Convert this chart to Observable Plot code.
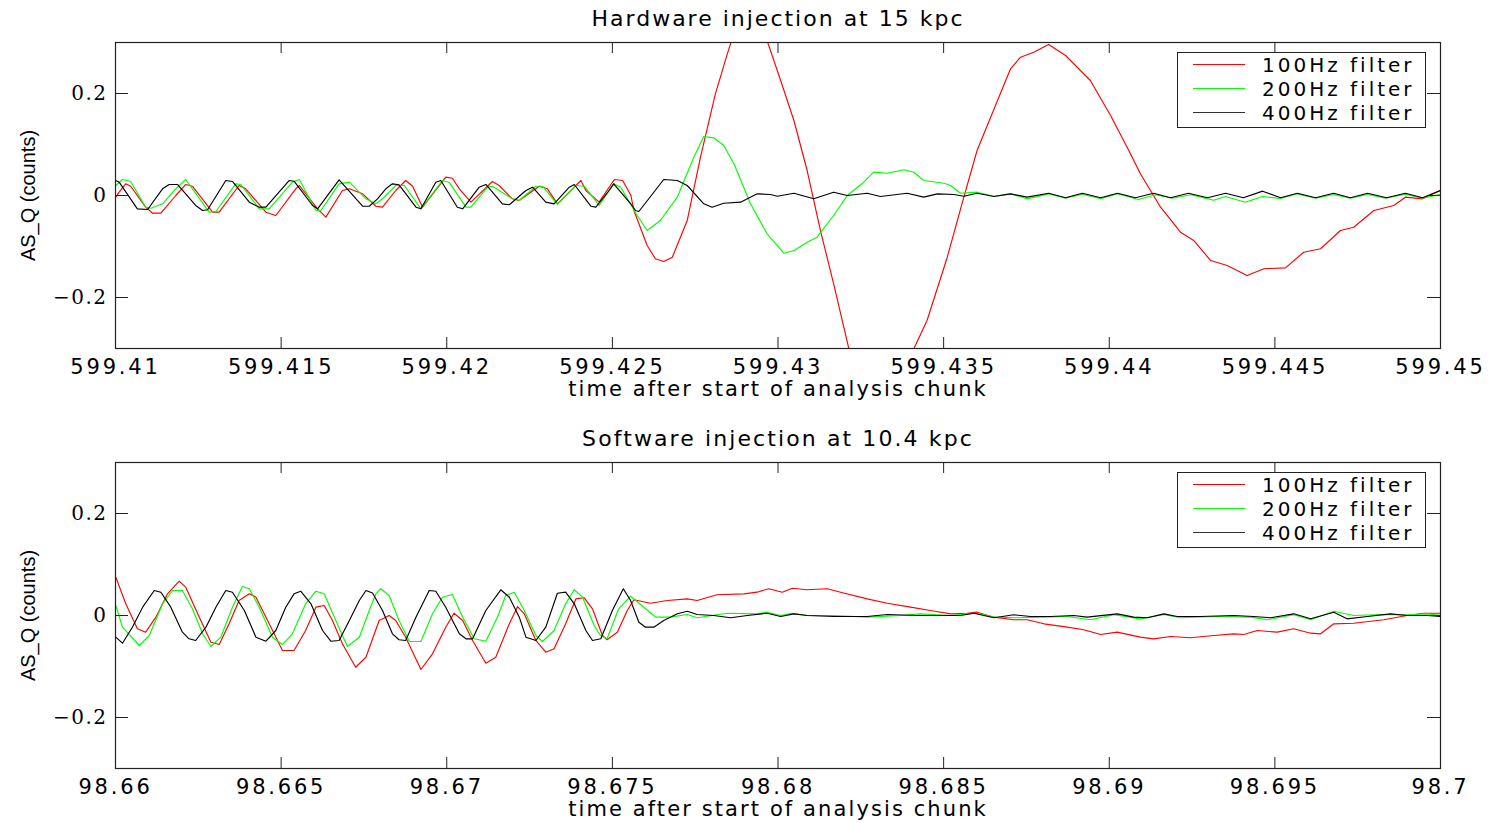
<!DOCTYPE html>
<html>
<head>
<meta charset="utf-8">
<script src="https://cdn.jsdelivr.net/npm/d3@7"></script>
<script src="https://cdn.jsdelivr.net/npm/@observablehq/plot@0.6"></script>
<style>
  html, body { margin: 0; padding: 0; background: #fff; }
  #page { position: relative; width: 1499px; height: 823px; background: #fff; overflow: hidden; }
  .panel { position: absolute; left: 0; width: 1499px; }
  .panel svg { display: block; }
  g[aria-label="x-axis tick label"] text { letter-spacing: 2.8px; }
  g[aria-label="y-axis tick label"] text { letter-spacing: 1.5px; }
  .legend { position: absolute; background: #fff; border: 1px solid #222; box-sizing: border-box; }
  .legend .row { position: absolute; left: 0; width: 100%; height: 24px; }
  .legend .sw { position: absolute; left: 15px; top: 11px; width: 52px; height: 1px; }
  .legend .lb { position: absolute; left: 84px; top: 0; line-height: 24px; font-family: "DejaVu Sans", sans-serif; font-size: 20px; letter-spacing: 3px; color: #000; white-space: nowrap; }
</style>
</head>
<body>
<div id="page"></div>
<script>
// ---------------- DATA ----------------
const seriesNames = ["100Hz filter", "200Hz filter", "400Hz filter"];
const seriesColors = ["#ff0000", "#00ff00", "#000000"];

const titles = ["Hardware injection at 15 kpc", "Software injection at 10.4 kpc"];
const yLabel = "AS_Q (counts)";
const xLabel = "time after start of analysis chunk";

const hwXDomain = [599.41, 599.45];
const swXDomain = [98.66, 98.7];
const yDomain = [-0.3, 0.3];

const hwXTicks = [599.41, 599.415, 599.42, 599.425, 599.43, 599.435, 599.44, 599.445, 599.45];
const hwXTickLabels = ["599.41", "599.415", "599.42", "599.425", "599.43", "599.435", "599.44", "599.445", "599.45"];
const swXTicks = [98.66, 98.665, 98.67, 98.675, 98.68, 98.685, 98.69, 98.695, 98.7];
const swXTickLabels = ["98.66", "98.665", "98.67", "98.675", "98.68", "98.685", "98.69", "98.695", "98.7"];
const yTicks = [-0.2, 0, 0.2];
const yTickLabels = ["\u22120.2", "0", "0.2"];

// Hardware injection, 100 Hz filter [time, AS_Q]
const hw100 = [
[599.41001,-0.0033],[599.41011,0.0065],[599.41031,0.0229],[599.41046,0.0182],[599.41091,-0.0229],[599.41112,-0.0347],
[599.41137,-0.0347],[599.41182,0],[599.41212,0.0216],[599.41232,0.0182],[599.41293,-0.0327],[599.41313,-0.0327],
[599.41373,0.0196],[599.41393,0.0131],[599.41454,-0.0327],[599.41484,-0.0392],[599.41544,0.0131],[599.41555,0.0196],
[599.41610,-0.0261],[599.41635,-0.0425],[599.41685,0.0098],[599.41706,0.0131],[599.41746,0.0033],[599.41786,-0.0210],
[599.41806,-0.0229],[599.41846,0.0098],[599.41876,0.0294],[599.41897,0.0182],[599.41927,-0.0229],[599.41997,0.0359],
[599.42017,0.0339],[599.42038,0.0131],[599.42073,-0.0131],[599.42138,0.0275],[599.42158,0.0196],[599.42198,-0.0065],
[599.42219,-0.0098],[599.42279,0.0182],[599.42304,0.0131],[599.42334,-0.0163],[599.42405,0.0294],[599.42420,0.0098],
[599.42460,-0.0131],[599.42506,0.0314],[599.42531,0.0294],[599.42556,0],[599.42565,-0.0294],[599.42605,-0.0980],
[599.42630,-0.1241],[599.42655,-0.1294],[599.42681,-0.1210],[599.42726,-0.0490],[599.42766,0.0751],[599.42811,0.1994],
[599.42847,0.2778],[599.42887,0.359],[599.42911,0.378],[599.42938,0.359],[599.42967,0.3039],[599.43008,0.2255],
[599.43048,0.1471],[599.43088,0.0490],[599.43128,-0.0686],[599.43168,-0.1731],[599.43214,-0.3006],[599.43255,-0.392],
[599.43309,-0.441],[599.43364,-0.392],[599.43410,-0.3006],[599.43450,-0.2451],[599.43511,-0.1210],[599.43561,-0.0033],
[599.43601,0.0882],[599.43642,0.1535],[599.43702,0.2484],[599.43732,0.2712],[599.43772,0.2810],[599.43817,0.2961],
[599.43868,0.2745],[599.43943,0.2255],[599.44004,0.1569],[599.44059,0.0882],[599.44094,0.0425],[599.44155,-0.0229],
[599.44215,-0.0720],[599.44255,-0.0882],[599.44306,-0.1275],[599.44356,-0.1373],[599.44416,-0.1569],[599.44467,-0.1437],
[599.44532,-0.1418],[599.44587,-0.1112],[599.44638,-0.1045],[599.44698,-0.0686],[599.44738,-0.0622],[599.44799,-0.0294],
[599.44859,-0.0196],[599.44894,-0.0033],[599.44945,-0.0065],[599.45,0.0098]
];

// Hardware injection, 200 Hz filter
const hw200 = [
[599.41001,0.0196],[599.41021,0.0314],[599.41046,0.0275],[599.41091,-0.0229],[599.41107,-0.0249],[599.41142,-0.0163],
[599.41182,0.0131],[599.41212,0.0314],[599.41283,-0.0327],[599.41303,-0.0314],[599.41363,0.0229],[599.41378,0.0216],
[599.41434,-0.0261],[599.41464,-0.0261],[599.41534,0.0261],[599.41555,0.0314],[599.41605,-0.0294],[599.41620,-0.0294],
[599.41675,0.0229],[599.41706,0.0261],[599.41756,-0.0065],[599.41786,-0.0163],[599.41806,-0.0065],[599.41846,0.0196],
[599.41872,0.0196],[599.41922,-0.0261],[599.41987,0.0294],[599.42007,0.0261],[599.42058,-0.0229],[599.42073,-0.0229],
[599.42123,0.0163],[599.42138,0.0182],[599.42198,-0.0065],[599.42219,-0.0098],[599.42269,0.0182],[599.42289,0.0182],
[599.42334,-0.0176],[599.42390,0.0196],[599.42415,0.0182],[599.42460,-0.0196],[599.42504,0.0229],[599.42525,0.0163],
[599.42575,-0.0392],[599.42605,-0.0686],[599.42645,-0.0490],[599.42696,-0.0033],[599.42746,0.0751],[599.42776,0.1157],
[599.42806,0.1131],[599.42836,0.0980],[599.42867,0.0622],[599.42917,-0.0163],[599.42967,-0.0751],[599.43018,-0.1131],
[599.43048,-0.1078],[599.43088,-0.0916],[599.43118,-0.0818],[599.43168,-0.0392],[599.43209,0],[599.43259,0.0261],
[599.43289,0.0457],[599.43330,0.0437],[599.43380,0.0504],[599.43410,0.0457],[599.43440,0.0294],[599.43501,0.0241],
[599.43521,0.0196],[599.43551,0.0045],[599.43601,0.0065],[599.43652,-0.0014],[599.43702,0.0033],[599.43752,-0.0065],
[599.43817,0.0033],[599.43868,-0.0053],[599.43919,0.0025],[599.43974,-0.0065],[599.44025,0.0033],[599.44088,-0.0078],
[599.44140,0.0014],[599.44191,-0.0053],[599.44245,0.0014],[599.44315,-0.0092],[599.44351,-0.0020],[599.44411,-0.0131],
[599.44463,-0.0020],[599.44517,-0.0059],[599.44568,0.0033],[599.44623,-0.0053],[599.44677,0.0020],[599.44728,-0.0053],
[599.44780,0.0020],[599.44834,-0.0053],[599.44894,0.0025],[599.44946,-0.0053],[599.45,0.0025]
];

// Hardware injection, 400 Hz filter
const hw400 = [
[599.41001,0.0294],[599.41011,0.0261],[599.41066,-0.0261],[599.41097,-0.0275],[599.41142,0.0131],[599.41162,0.0216],
[599.41187,0.0216],[599.41242,-0.0196],[599.41263,-0.0294],[599.41278,-0.0280],[599.41333,0.0294],[599.41353,0.0275],
[599.41404,-0.0131],[599.41434,-0.0229],[599.41454,-0.0229],[599.41524,0.0294],[599.41539,0.0280],[599.41595,-0.0196],
[599.41610,-0.0261],[599.41675,0.0308],[599.41746,-0.0210],[599.41766,-0.0210],[599.41791,-0.0065],[599.41816,0.0131],
[599.41836,0.0229],[599.41856,0.0210],[599.41907,-0.0229],[599.41922,-0.0261],[599.41967,0.0261],[599.41982,0.0294],
[599.42032,-0.0229],[599.42048,-0.0261],[599.42098,0.0163],[599.42118,0.0216],[599.42168,-0.0163],[599.42189,-0.0182],
[599.42239,0.0098],[599.42259,0.0163],[599.42299,-0.0131],[599.42324,-0.0163],[599.42370,0.0163],[599.42385,0.0216],
[599.42435,-0.0210],[599.42450,-0.0229],[599.42490,0.0098],[599.42504,0.0229],[599.42555,-0.0157],[599.42570,-0.0294],
[599.42580,-0.0314],[599.42655,0.0314],[599.42696,0.0294],[599.42726,0.0196],[599.42776,-0.0163],[599.42801,-0.0229],
[599.42836,-0.0151],[599.42887,-0.0131],[599.42937,0.0033],[599.42977,0.0020],[599.42998,-0.0014],[599.43048,0.0045],
[599.43108,-0.0065],[599.43168,0.0065],[599.43209,0],[599.43269,0.0045],[599.43309,-0.0020],[599.43390,0.0045],
[599.43440,-0.0033],[599.43481,0.0033],[599.43531,0.0020],[599.43561,-0.0014],[599.43601,0.0045],[599.43652,-0.0020],
[599.43702,0.0033],[599.43752,-0.0033],[599.43817,0.0045],[599.43868,-0.0045],[599.43919,0.0045],[599.43974,-0.0045],
[599.44025,0.0045],[599.44079,-0.0045],[599.44134,0.0045],[599.44185,-0.0045],[599.44239,0.0045],[599.44297,-0.0045],
[599.44351,0.0045],[599.44405,-0.0045],[599.44463,0.0085],[599.44517,-0.0045],[599.44568,0.0045],[599.44623,-0.0045],
[599.44677,0.0045],[599.44728,-0.0045],[599.44780,0.0045],[599.44837,-0.0045],[599.44894,0.0045],[599.44946,-0.0045],
[599.45,0.0100]
];

// Software injection, 100 Hz filter
const sw100 = [
[98.66001,0.0751],[98.66031,0.0229],[98.66066,-0.0261],[98.66091,-0.0327],[98.66122,-0.0033],[98.66157,0.0425],
[98.66192,0.0673],[98.66212,0.0555],[98.66253,-0.0033],[98.66288,-0.0524],[98.66313,-0.0569],[98.66343,-0.0163],
[98.66373,0.0294],[98.66404,0.0425],[98.66424,0.0359],[98.66464,-0.0163],[98.66504,-0.0686],[98.66539,-0.0686],
[98.66574,-0.0294],[98.66605,0.0163],[98.66630,0.0196],[98.66655,-0.0098],[98.66685,-0.0555],[98.66725,-0.1014],
[98.66756,-0.0818],[98.66796,-0.0098],[98.66826,0],[98.66846,-0.0098],[98.66876,-0.0425],[98.66922,-0.1059],
[98.66957,-0.0751],[98.66997,-0.0229],[98.67022,0.0045],[98.67048,-0.0098],[98.67078,-0.0490],[98.67118,-0.0935],
[98.67148,-0.0818],[98.67189,-0.0163],[98.67214,0.0176],[98.67234,0.0033],[98.67269,-0.0490],[98.67299,-0.0720],
[98.67324,-0.0653],[98.67359,-0.0163],[98.67390,0.0327],[98.67415,0.0347],[98.67440,0.0131],[98.67470,-0.0392],
[98.67484,-0.0476],[98.67515,-0.0327],[98.67545,0.0098],[98.67565,0.0308],[98.67615,0.0241],[98.67666,0.0294],
[98.67726,0.0327],[98.67756,0.0294],[98.67816,0.0406],[98.67897,0.0425],[98.67937,0.0457],[98.67972,0.0524],
[98.68013,0.0457],[98.68043,0.0535],[98.68088,0.0504],[98.68149,0.0524],[98.68189,0.0457],[98.68269,0.0327],
[98.68330,0.0241],[98.68400,0.0163],[98.68460,0.0098],[98.68521,0.0033],[98.68571,0.0045],[98.68601,0.0065],
[98.68652,-0.0033],[98.68712,-0.0084],[98.68752,-0.0084],[98.68803,-0.0163],[98.68873,-0.0229],[98.68923,-0.0280],
[98.68974,-0.0373],[98.69024,-0.0327],[98.69094,-0.0425],[98.69134,-0.0457],[98.69185,-0.0412],[98.69245,-0.0437],
[98.69316,-0.0392],[98.69376,-0.0359],[98.69406,-0.0373],[98.69447,-0.0294],[98.69507,-0.0327],[98.69557,-0.0261],
[98.69608,-0.0347],[98.69638,-0.0359],[98.69678,-0.0163],[98.69738,-0.0151],[98.69829,-0.0084],[98.69899,0],
[98.69950,0.0045],[98.7,0.0045]
];

// Software injection, 200 Hz filter
const sw200 = [
[98.66001,0.0196],[98.66021,-0.0229],[98.66072,-0.0588],[98.66102,-0.0392],[98.66142,0.0229],[98.66172,0.0490],
[98.66202,0.0490],[98.66232,0.0131],[98.66263,-0.0359],[98.66288,-0.0608],[98.66318,-0.0425],[98.66353,0.0163],
[98.66383,0.0569],[98.66404,0.0524],[98.66434,0.0163],[98.66474,-0.0425],[98.66504,-0.0569],[98.66534,-0.0359],
[98.66574,0.0229],[98.66605,0.0476],[98.66630,0.0425],[98.66665,-0.0098],[98.66700,-0.0608],[98.66736,-0.0425],
[98.66766,0.0098],[98.66786,0.0425],[98.66801,0.0524],[98.66826,0.0392],[98.66856,-0.0098],[98.66887,-0.0510],
[98.66922,-0.0510],[98.66957,0.0033],[98.66987,0.0359],[98.67017,0.0412],[98.67048,-0.0033],[98.67083,-0.0457],
[98.67118,-0.0504],[98.67153,-0.0033],[98.67178,0.0392],[98.67204,0.0457],[98.67234,0.0098],[98.67269,-0.0392],
[98.67289,-0.0510],[98.67324,-0.0294],[98.67359,0.0229],[98.67385,0.0504],[98.67410,0.0359],[98.67445,-0.0196],
[98.67464,-0.0392],[98.67484,-0.0457],[98.67519,0.0131],[98.67555,0.0378],[98.67595,0.0163],[98.67630,-0.0033],
[98.67675,-0.0033],[98.67726,0.0020],[98.67756,-0.0045],[98.67847,0.0045],[98.67937,0.0033],[98.67967,0.0065],
[98.68008,0],[98.68043,0.0045],[98.68088,0],[98.68168,0],[98.68269,-0.0033],[98.68370,0],[98.68430,0.0033],
[98.68521,0],[98.68571,0.0033],[98.68601,0.0045],[98.68652,-0.0033],[98.68722,-0.0045],[98.68803,-0.0033],
[98.68873,-0.0020],[98.68943,-0.0084],[98.69014,0.0014],[98.69094,-0.0065],[98.69165,0.0020],[98.69215,-0.0045],
[98.69326,-0.0020],[98.69426,-0.0033],[98.69477,-0.0084],[98.69557,0.0014],[98.69608,-0.0084],[98.69678,0.0084],
[98.69738,0],[98.69799,0.0014],[98.69849,0.0020],[98.69899,0.0014],[98.69960,0.0033],[98.7,0]
];

// Software injection, 400 Hz filter
const sw400 = [
[98.66001,-0.0425],[98.66021,-0.0543],[98.66051,-0.0229],[98.66082,0.0163],[98.66117,0.0490],[98.66137,0.0457],
[98.66167,0.0163],[98.66202,-0.0327],[98.66222,-0.0457],[98.66242,-0.0490],[98.66273,-0.0229],[98.66303,0.0163],
[98.66333,0.0490],[98.66353,0.0457],[98.66389,0.0098],[98.66424,-0.0425],[98.66454,-0.0504],[98.66484,-0.0294],
[98.66514,0.0163],[98.66539,0.0425],[98.66559,0.0476],[98.66590,0.0229],[98.66625,-0.0294],[98.66650,-0.0504],
[98.66675,-0.0490],[98.66706,-0.0098],[98.66736,0.0294],[98.66756,0.0490],[98.66776,0.0441],[98.66806,0.0098],
[98.66836,-0.0359],[98.66856,-0.0476],[98.66876,-0.0490],[98.66907,-0.0033],[98.66947,0.0490],[98.66967,0.0476],
[98.66997,0.0163],[98.67038,-0.0359],[98.67058,-0.0457],[98.67078,-0.0457],[98.67118,0.0098],[98.67163,0.0504],
[98.67189,0.0359],[98.67219,-0.0033],[98.67239,-0.0425],[98.67269,-0.0490],[98.67299,-0.0229],[98.67334,0.0437],
[98.67359,0.0457],[98.67385,0.0229],[98.67420,-0.0294],[98.67440,-0.0490],[98.67465,-0.0457],[98.67500,0.0098],
[98.67533,0.0524],[98.67555,0.0294],[98.67580,-0.0131],[98.67600,-0.0229],[98.67625,-0.0229],[98.67655,-0.0098],
[98.67696,0.0033],[98.67726,0.0084],[98.67756,0.0020],[98.67806,0],[98.67857,-0.0045],[98.67907,0],[98.67967,0.0045],
[98.68008,-0.0020],[98.68048,0.0033],[98.68088,0],[98.68168,-0.0020],[98.68269,-0.0020],[98.68330,0.0020],
[98.68420,0],[98.68551,0],[98.68591,0.0045],[98.68652,-0.0045],[98.68712,0.0014],[98.68762,-0.0020],[98.68823,-0.0020],
[98.68893,0],[98.68933,-0.0033],[98.69024,0.0033],[98.69074,-0.0033],[98.69115,-0.0045],[98.69165,0.0033],
[98.69205,-0.0020],[98.69275,-0.0020],[98.69376,0],[98.69436,-0.0020],[98.69487,-0.0045],[98.69557,0.0033],
[98.69608,-0.0065],[98.69678,0.0065],[98.69718,-0.0065],[98.69779,-0.0020],[98.69849,0.0033],[98.69899,0],
[98.69960,0],[98.7,-0.0020]
];

// ---------------- DRAWING ----------------
const MT = 42, ML = 115, MR = 59;
const FRAME_W = 1499 - ML - MR;     // 1325
const FRAME_H = 306;
const XTICK = 11, YTICK = 13;
const frameColor = "#222";

function spaceText(svg, content, spacing) {
  d3.select(svg).selectAll("text")
    .filter(function () { return this.textContent === content; })
    .style("letter-spacing", spacing + "px");
}

function makePanel({top, height, title, series, xDomain, xTicks, xTickLabels}) {
  const marginBottom = height - MT - FRAME_H;
  const xLab = new Map(xTicks.map((d, i) => [d, xTickLabels[i]]));
  const yLab = new Map(yTicks.map((d, i) => [d, yTickLabels[i]]));
  const svg = Plot.plot({
    width: 1499,
    height,
    marginTop: MT,
    marginLeft: ML,
    marginRight: MR,
    marginBottom,
    style: {background: "#fff", color: "#000", overflow: "visible"},
    x: {domain: xDomain},
    y: {domain: yDomain},
    marks: [
      ...series.map((s, i) => Plot.line(s, {x: d => d[0], y: d => d[1], stroke: seriesColors[i], strokeWidth: 1.15, clip: true})),
      // inward ticks on all four sides
      Plot.tickX(xTicks, {x: d => d, insetTop: FRAME_H - XTICK, stroke: frameColor}),
      Plot.tickX(xTicks, {x: d => d, insetBottom: FRAME_H - XTICK, stroke: frameColor}),
      Plot.tickY(yTicks, {y: d => d, insetRight: FRAME_W - YTICK, stroke: frameColor}),
      Plot.tickY(yTicks, {y: d => d, insetLeft: FRAME_W - YTICK, stroke: frameColor}),
      Plot.frame({stroke: frameColor, strokeWidth: 1.2}),
      Plot.axisX(xTicks, {tickSize: 0, tickPadding: 11, tickFormat: d => xLab.get(d), label: null,
        fontSize: 21, fontFamily: "DejaVu Sans"}),
      Plot.axisY(yTicks, {tickSize: 0, tickPadding: 8, tickFormat: d => yLab.get(d), label: null,
        fontSize: 20, fontFamily: "DejaVu Serif"}),
      Plot.text([title], {frameAnchor: "top", lineAnchor: "middle", textAnchor: "middle", dy: -24, fontSize: 22, fontFamily: "DejaVu Sans"}),
      Plot.text([xLabel], {frameAnchor: "bottom", lineAnchor: "middle", textAnchor: "middle", dy: 41, fontSize: 21, fontFamily: "DejaVu Sans"}),
      Plot.text([yLabel], {frameAnchor: "left", lineAnchor: "middle", textAnchor: "middle", rotate: -90, dx: -87, fontSize: 20, fontFamily: "Liberation Sans"})
    ]
  });
  spaceText(svg, title, title === titles[0] ? 2 : 2.1);
  spaceText(svg, xLabel, 2.1);

  const div = document.createElement("div");
  div.className = "panel";
  div.style.top = top + "px";
  div.style.height = height + "px";
  div.appendChild(svg);

  const leg = document.createElement("div");
  leg.className = "legend";
  leg.style.left = "1177px";
  leg.style.top = "52px";
  leg.style.width = "249px";
  leg.style.height = "76px";
  seriesNames.forEach((name, i) => {
    const row = document.createElement("div");
    row.className = "row";
    row.style.top = (i * 24) + "px";
    const sw = document.createElement("div");
    sw.className = "sw";
    sw.style.background = seriesColors[i] === "#000000" ? "#333" : seriesColors[i];
    const lb = document.createElement("div");
    lb.className = "lb";
    lb.textContent = name;
    row.appendChild(sw);
    row.appendChild(lb);
    leg.appendChild(row);
  });
  div.appendChild(leg);
  document.getElementById("page").appendChild(div);
}

makePanel({top: 0, height: 410, title: titles[0], series: [hw100, hw200, hw400],
  xDomain: hwXDomain, xTicks: hwXTicks, xTickLabels: hwXTickLabels});
makePanel({top: 420, height: 403, title: titles[1], series: [sw100, sw200, sw400],
  xDomain: swXDomain, xTicks: swXTicks, xTickLabels: swXTickLabels});
</script>
</body>
</html>
